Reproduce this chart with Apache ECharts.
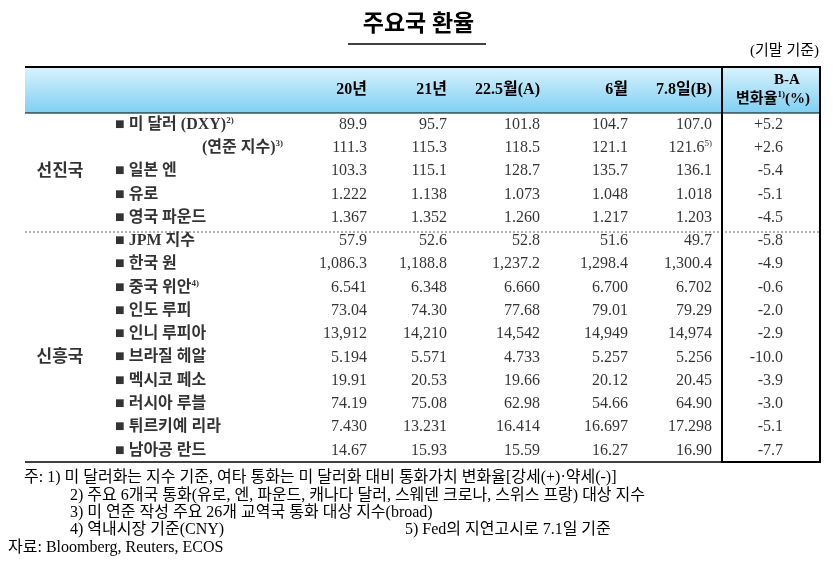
<!DOCTYPE html>
<html><head><meta charset="utf-8">
<script src="https://cdn.jsdelivr.net/npm/echarts@6/dist/echarts.min.js"></script>
<style>html,body{margin:0;padding:0;background:#fff}#c{width:837px;height:562px}</style>
</head><body><div id="c"></div>
<script>
const title = '주요국 환율';
const unitNote = '(기말 기준)';
const colHeaders = ['20년', '21년', '22.5월(A)', '6월', '7.8일(B)'];
const rowLabels = ['미 달러 (DXY)', '(연준 지수)', '일본 엔', '유로', '영국 파운드', 'JPM 지수', '한국 원', '중국 위안', '인도 루피', '인니 루피아', '브라질 헤알', '멕시코 페소', '러시아 루블', '튀르키예 리라', '남아공 란드'];
const rowSup = ['2)', '3)', '', '', '', '', '', '4)', '', '', '', '', '', '', ''];
const groups = ['선진국', '신흥국'];
const v20 = ['89.9', '111.3', '103.3', '1.222', '1.367', '57.9', '1,086.3', '6.541', '73.04', '13,912', '5.194', '19.91', '74.19', '7.430', '14.67'];
const v21 = ['95.7', '115.3', '115.1', '1.138', '1.352', '52.6', '1,188.8', '6.348', '74.30', '14,210', '5.571', '20.53', '75.08', '13.231', '15.93'];
const vA = ['101.8', '118.5', '128.7', '1.073', '1.260', '52.8', '1,237.2', '6.660', '77.68', '14,542', '4.733', '19.66', '62.98', '16.414', '15.59'];
const v6 = ['104.7', '121.1', '135.7', '1.048', '1.217', '51.6', '1,298.4', '6.700', '79.01', '14,949', '5.257', '20.12', '54.66', '16.697', '16.27'];
const vB = ['107.0', '121.6', '136.1', '1.018', '1.203', '49.7', '1,300.4', '6.702', '79.29', '14,974', '5.256', '20.45', '64.90', '17.298', '16.90'];
const vBSup = ['', '5)', '', '', '', '', '', '', '', '', '', '', '', '', ''];
const vChg = ['+5.2', '+2.6', '-5.4', '-5.1', '-4.5', '-5.8', '-4.9', '-0.6', '-2.0', '-2.9', '-10.0', '-3.9', '-3.0', '-5.1', '-7.7'];
const notes = [
 '주: 1) 미 달러화는 지수 기준, 여타 통화는 미 달러화 대비 통화가치 변화율[강세(+)·약세(-)]',
 '2) 주요 6개국 통화(유로, 엔, 파운드, 캐나다 달러, 스웨덴 크로나, 스위스 프랑) 대상 지수',
 '3) 미 연준 작성 주요 26개 교역국 통화 대상 지수(broad)',
 '4) 역내시장 기준(CNY)',
 '5) Fed의 지연고시로 7.1일 기준',
 '자료: Bloomberg, Reuters, ECOS'
];

const FF = '"Liberation Serif","Noto Sans CJK KR",serif';
const colRight = [367, 447, 540, 628, 712, 783];
const rows = rowLabels.map((_, i) => i);
const numCols = [v20, v21, vA, v6, vB, vChg];

const chart = echarts.init(document.getElementById('c'));
const series = numCols.map((arr, c) => ({
  type: 'scatter', symbolSize: 0, silent: true,
  data: arr.map((v, i) => [colRight[c], i]),
  label: {
    show: true, position: 'left', distance: 0, align: 'right',
    fontFamily: FF, fontSize: 16, color: '#000',
    formatter: p => {
      const i = p.data[1];
      if (c === 4 && vBSup[i]) return arr[i] + '{s|' + vBSup[i] + '}';
      return arr[i];
    },
    rich: { s: { fontSize: 9, verticalAlign: 'top', padding: [0, 0, 8, 0], fontFamily: FF } }
  }
}));
series.push({
  type: 'scatter', symbolSize: 0, silent: true,
  data: rows.map(i => [i === 1 ? 202 : 115, i]),
  label: {
    show: true, position: 'right', distance: 0,
    fontFamily: FF, fontSize: 16, fontWeight: 'bold', color: '#000',
    formatter: p => {
      const i = p.data[1];
      const txt = (i === 1 ? '' : '■ ') + rowLabels[i];
      return rowSup[i] ? txt + '{s|' + rowSup[i] + '}' : txt;
    },
    rich: { s: { fontSize: 9, fontWeight: 'bold', padding: [0, 0, 8, 0], fontFamily: FF } }
  }
});
series.push({
  type: 'scatter', symbolSize: 0, silent: true,
  data: [[60, 2], [60, 9.5]],
  label: { show: true, position: 'inside', fontFamily: FF, fontSize: 17, fontWeight: 'bold', color: '#000',
    formatter: p => groups[p.dataIndex] }
});

const hdrY = 90;
const graphics = [
  { type: 'text', left: 'center', top: 14, style: { text: title, font: 'bold 23px ' + FF, fill: '#000' } },
  { type: 'line', shape: { x1: 348, y1: 44, x2: 486, y2: 44 }, style: { stroke: '#000', lineWidth: 1.5 } },
  { type: 'text', right: 18, top: 44, style: { text: unitNote, font: '15px ' + FF, fill: '#000' } },
  { type: 'rect', shape: { x: 25, y: 67, width: 795, height: 46 }, z: -1,
    style: { fill: new echarts.graphic.LinearGradient(0, 0, 0, 1, [{ offset: 0, color: '#d9f3fd' }, { offset: 1, color: '#7fcff3' }]) } },
  { type: 'line', shape: { x1: 25, y1: 67, x2: 820, y2: 67 }, style: { stroke: '#000', lineWidth: 2 } },
  { type: 'line', shape: { x1: 25, y1: 113, x2: 820, y2: 113 }, style: { stroke: '#000', lineWidth: 1 } },
  { type: 'line', shape: { x1: 25, y1: 462, x2: 820, y2: 462 }, style: { stroke: '#000', lineWidth: 1.5 } },
  { type: 'line', shape: { x1: 25, y1: 232, x2: 820, y2: 232 }, style: { stroke: '#666', lineWidth: 1, lineDash: [2, 2] } },
  { type: 'rect', shape: { x: 722, y: 67, width: 98, height: 395 }, style: { fill: 'none', stroke: '#000', lineWidth: 2 } },
  { type: 'text', x: 787, y: 80, style: { text: 'B-A', font: 'bold 15px ' + FF, fill: '#000', align: 'center', verticalAlign: 'middle' } },
  { type: 'text', x: 773, y: 99, style: { text: '변화율{s|1)}(%)', font: 'bold 15px ' + FF, fill: '#000', align: 'center', verticalAlign: 'middle',
      rich: { s: { font: 'bold 9px ' + FF, padding: [0, 0, 8, 0] } } } }
];
colHeaders.forEach((h, c) => graphics.push({ type: 'text', x: colRight[c], y: hdrY, style: { text: h, font: 'bold 16px ' + FF, fill: '#000', align: 'right', verticalAlign: 'middle' } }));
notes.forEach((n, k) => {
  const pos = [[24, 470], [70, 488], [70, 505], [70, 522], [405, 522], [8, 540]][k];
  graphics.push({ type: 'text', x: pos[0], y: pos[1], style: { text: n, font: '16px ' + FF, fill: '#000' } });
});

chart.setOption({
  animation: false,
  grid: { left: 0, right: 0, top: 113, bottom: 100 },
  xAxis: { type: 'value', min: 0, max: 837, show: false },
  yAxis: { type: 'category', data: rows, inverse: true, show: false },
  series,
  graphic: graphics
});
</script></body></html>
